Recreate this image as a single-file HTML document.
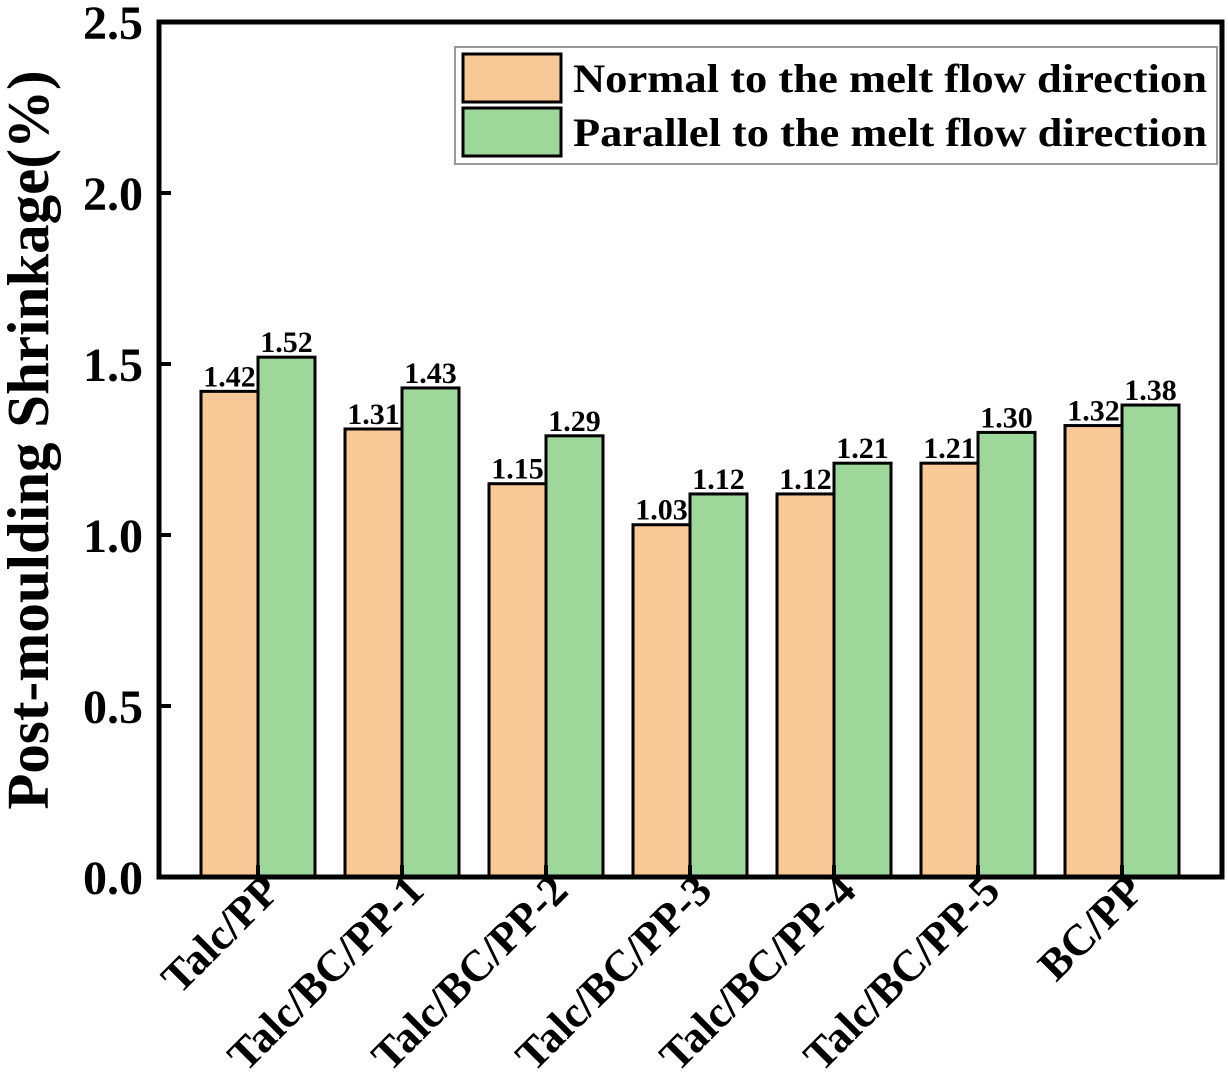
<!DOCTYPE html>
<html><head><meta charset="utf-8"><style>
body{margin:0;background:#fff}
svg text{font-family:"Liberation Serif",serif;font-weight:bold;fill:#000}
</style></head><body>
<svg id="c" width="1228" height="1070" xmlns="http://www.w3.org/2000/svg"></svg>
<script>
const categories=["Talc/PP","Talc/BC/PP-1","Talc/BC/PP-2","Talc/BC/PP-3","Talc/BC/PP-4","Talc/BC/PP-5","BC/PP"];
const normalVals=[1.42,1.31,1.15,1.03,1.12,1.21,1.32];
const parallelVals=[1.52,1.43,1.29,1.12,1.21,1.30,1.38];
const yTicks=[0,0.5,1.0,1.5,2.0,2.5];
const svg=document.getElementById('c');
const NS='http://www.w3.org/2000/svg';
const L=159,R=1222,T=22,B=877;
const y=v=>B-(v/2.5)*(B-T);
const xc=i=>258+144*i;
const bw=57;
function mk(t,a,txt){const e=document.createElementNS(NS,t);for(const k in a)e.setAttribute(k,a[k]);if(txt!==undefined)e.textContent=txt;svg.appendChild(e);return e;}
normalVals.forEach((v,i)=>{
 const r=mk('rect',{x:xc(i)-bw,y:y(v),width:bw,height:B-y(v),fill:'#f9c897',stroke:'#000','stroke-width':3});
 
 
 const t=mk('text',{x:xc(i)-bw/2,y:y(v)-5,'text-anchor':'middle','font-size':30},v.toFixed(2));
 
 
});
parallelVals.forEach((v,i)=>{
 const r=mk('rect',{x:xc(i),y:y(v),width:bw,height:B-y(v),fill:'#9dd89a',stroke:'#000','stroke-width':3});
 
 
 const t=mk('text',{x:xc(i)+bw/2,y:y(v)-5,'text-anchor':'middle','font-size':30},v.toFixed(2));
 
 
});
const fr=mk('rect',{x:L,y:T,width:R-L,height:B-T,fill:'none',stroke:'#000','stroke-width':5});


yTicks.forEach(v=>{
 const l=mk('line',{x1:L,x2:L+12,y1:y(v),y2:y(v),stroke:'#000','stroke-width':4});
 
 
 const t=mk('text',{x:L-16,y:y(v)+17,'text-anchor':'end','font-size':48},v.toFixed(1));
 
 
});
categories.forEach((c,i)=>{
 const l=mk('line',{x1:xc(i),x2:xc(i),y1:B,y2:B-12,stroke:'#000','stroke-width':4});
 
 
 const ax=xc(i)+24, ay=B+16;
 const t=mk('text',{x:ax,y:ay,'text-anchor':'end','font-size':44,transform:`rotate(-45 ${ax} ${ay})`},c);
 
 
});
const yt=mk('text',{x:48,y:440,'text-anchor':'middle','font-size':59,transform:'rotate(-90 48 440)'},'Post-moulding Shrinkage(%)');


const lg=mk('rect',{x:455,y:47,width:762,height:117,fill:'#fff',stroke:'#999','stroke-width':2});


[['#f9c897','Normal to the melt flow direction',54],['#9dd89a','Parallel to the melt flow direction',108]].forEach(([f,s,yy])=>{
 const r=mk('rect',{x:463,y:yy,width:98,height:48,fill:f,stroke:'#000','stroke-width':3});
 
 
 const t=mk('text',{x:573,y:yy+38,'font-size':40,textLength:634,lengthAdjust:'spacingAndGlyphs'},s);
 
 
});
</script>
</body></html>
